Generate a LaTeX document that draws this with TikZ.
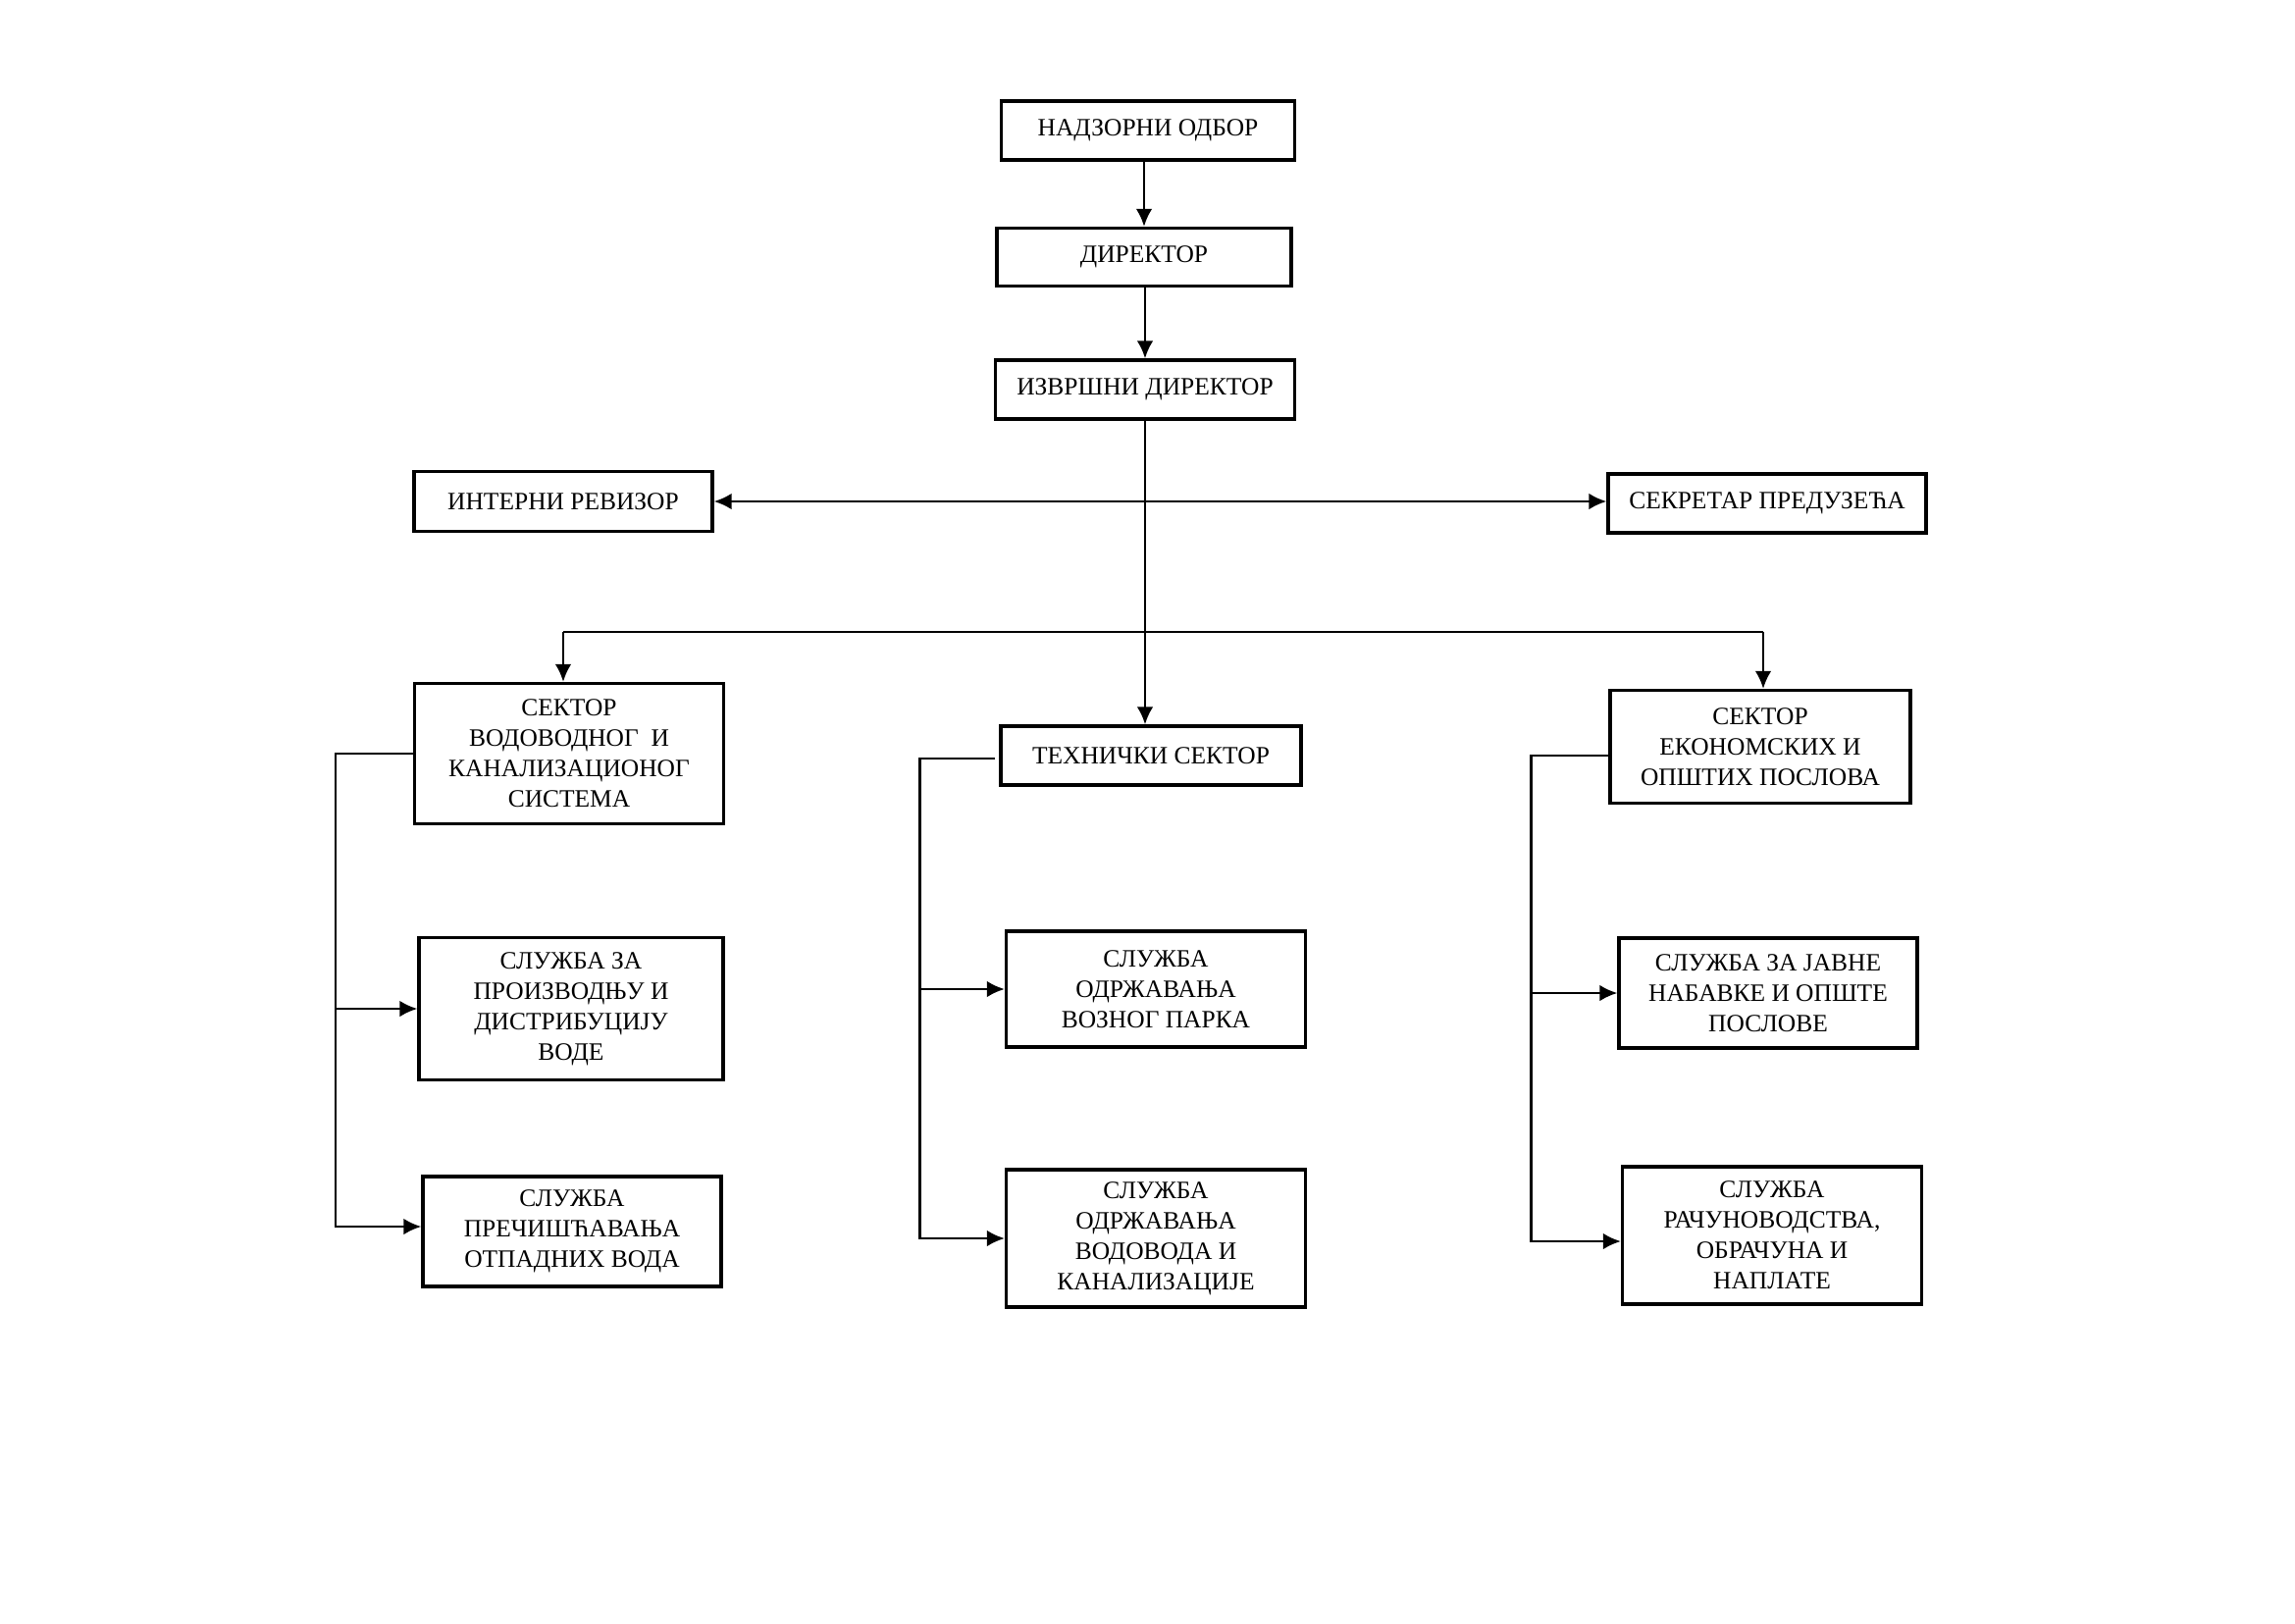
\documentclass[tikz,border=0pt]{standalone}
\usepackage{fontspec}
\setmainfont{Liberation Serif}
\usetikzlibrary{arrows.meta}
\newlength\upx
\setlength\upx{0.127mm}

\begin{document}
\begin{tikzpicture}[x=0.127mm, y=-0.127mm, >={Latex[length=6.5pt,width=6pt]},
		font=\fontsize{9.2}{11.2}\selectfont,
		box/.style={draw, line width=1.2pt, align=center, inner sep=0pt},
		conn/.style={line width=0.9pt}]
				% Seitenformat
				\useasboundingbox (0,0) rectangle (2339,1654);
				% Leitung
				\node[box, minimum width=299\upx, minimum height=60\upx] (nadzor) at (1170,133) {НАДЗОРНИ ОДБОР};
				\node[box, minimum width=300\upx, minimum height=59\upx] (direktor) at (1166,262) {ДИРЕКТОР};
				\node[box, minimum width=305\upx, minimum height=60\upx] (izvrsni) at (1167,397) {ИЗВРШНИ ДИРЕКТОР};
				\node[box, minimum width=304\upx, minimum height=61\upx] (revizor) at (574,511) {ИНТЕРНИ РЕВИЗОР};
				\node[box, minimum width=324\upx, minimum height=60\upx] (sekretar) at (1801,513) {СЕКРЕТАР ПРЕДУЗЕЋА};
				% Sektoren
				\node[box, minimum width=315\upx, minimum height=143\upx] (vik) at (580,768) {СЕКТОР\\ВОДОВОДНОГ~~И\\КАНАЛИЗАЦИОНОГ\\СИСТЕМА};
				\node[box, minimum width=306\upx, minimum height=60\upx] (tehn) at (1173,770) {ТЕХНИЧКИ СЕКТОР};
				\node[box, minimum width=306\upx, minimum height=115\upx] (ekon) at (1794,761) {СЕКТОР\\ЕКОНОМСКИХ И\\ОПШТИХ ПОСЛОВА};
				% Sluzbe
				\node[box, minimum width=310\upx, minimum height=145\upx] (proizv) at (582,1028) {СЛУЖБА ЗА\\ПРОИЗВОДЊУ И\\ДИСТРИБУЦИЈУ\\ВОДЕ};
				\node[box, minimum width=304\upx, minimum height=112\upx] (precisc) at (583,1255) {СЛУЖБА\\ПРЕЧИШЋАВАЊА\\ОТПАДНИХ ВОДА};
				\node[box, minimum width=305\upx, minimum height=118\upx] (vozni) at (1178,1008) {СЛУЖБА\\ОДРЖАВАЊА\\ВОЗНОГ ПАРКА};
				\node[box, minimum width=305\upx, minimum height=140\upx] (vodovod) at (1178,1262) {СЛУЖБА\\ОДРЖАВАЊА\\ВОДОВОДА И\\КАНАЛИЗАЦИЈЕ};
				\node[box, minimum width=304\upx, minimum height=112\upx] (nabavke) at (1802,1012) {СЛУЖБА ЗА ЈАВНЕ\\НАБАВКЕ И ОПШТЕ\\ПОСЛОВЕ};
				\node[box, minimum width=305\upx, minimum height=140\upx] (racun) at (1806,1259) {СЛУЖБА\\РАЧУНОВОДСТВА,\\ОБРАЧУНА И\\НАПЛАТЕ};
				% Verbindungen oben
				\draw[conn,->] (direktor.north |- nadzor.south) -- (direktor.north);
				\draw[conn,->] (izvrsni.north |- direktor.south) -- (izvrsni.north);
				\draw[conn,->] (izvrsni.south) -- (izvrsni.south |- tehn.north);
				\draw[conn,<->] (revizor.east) -- (revizor.east -| sekretar.west);
				% Verteiler
				\coordinate (vl) at (574,644);
				\coordinate (vr) at (1797,644);
				\draw[line width=0.4pt] (vl) -- (vr);
				\draw[conn,->] (vl) -- (vl |- vik.north);
				\draw[conn,->] (vr) -- (vr |- ekon.north);
				% Aeste
				\draw[conn,->] (vik.west) -- ++(-79,0) coordinate (lb) |- ([yshift=5\upx]precisc.west);
				\draw[conn,->] (lb |- proizv.west) -- (proizv.west);
				\draw[conn,->] (tehn.west) ++(-4,3) -- ++(-77,0) coordinate (mb) |- (vodovod.west);
				\draw[conn,->] (mb |- vozni.west) -- (vozni.west);
				\draw[conn,->] (ekon.west) ++(0,9) -- ++(-79,0) coordinate (rb) |- ([yshift=-6\upx]racun.west);
				\draw[conn,->] (rb |- nabavke.west) -- (nabavke.west);
		\end{tikzpicture}
\end{document}
